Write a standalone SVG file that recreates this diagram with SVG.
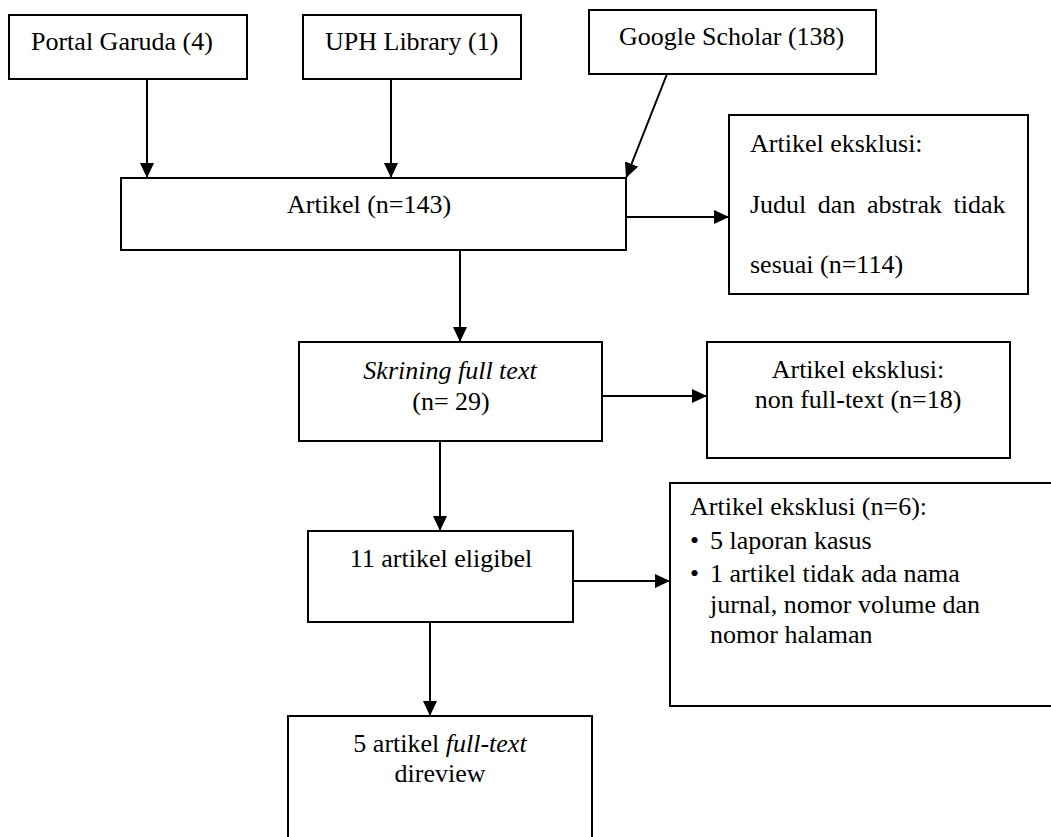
<svg xmlns="http://www.w3.org/2000/svg" width="1051" height="837" viewBox="0 0 1051 837">
<defs>
<marker id="ah" markerUnits="userSpaceOnUse" markerWidth="16" markerHeight="14" refX="15" refY="7" orient="auto">
<path d="M0,0 L15,7 L0,14 Z" fill="#000"/>
</marker>
<style>
.box{fill:#fff;stroke:#000;stroke-width:2}
.t{font-size:26px;fill:#000}
.c{text-anchor:middle}
.i{font-style:italic}
.ln{stroke:#000;stroke-width:2;fill:none;marker-end:url(#ah)}
</style>
</defs>
<rect width="1051" height="837" fill="#fff"/>
<g font-family="Liberation Serif, Tinos, Times New Roman, DejaVu Serif, serif">
<g id="portal">
<rect class="box" x="9" y="15" width="238" height="64"/>
<text class="t" x="31" y="50">Portal Garuda (4)</text>
</g>
<g id="uph">
<rect class="box" x="303" y="15" width="218" height="64"/>
<text class="t" x="325" y="50">UPH Library (1)</text>
</g>
<g id="google">
<rect class="box" x="589" y="10" width="287" height="64"/>
<text class="t" x="619" y="45">Google Scholar (138)</text>
</g>
<g id="artikel">
<rect class="box" x="121" y="178" width="505" height="72"/>
<text class="t" x="287" y="213">Artikel (n=143)</text>
</g>
<g id="excl1">
<rect class="box" x="729" y="115" width="299" height="179"/>
<text class="t" x="750" y="152">Artikel eksklusi:</text>
<text class="t" x="750" y="213" word-spacing="5">Judul dan abstrak tidak</text>
<text class="t" x="750" y="273">sesuai (n=114)</text>
</g>
<g id="skrining">
<rect class="box" x="299" y="342" width="303" height="99"/>
<text class="t c i" x="450" y="379">Skrining full text</text>
<text class="t c" x="451" y="410">(n= 29)</text>
</g>
<g id="excl2">
<rect class="box" x="707" y="342" width="303" height="116"/>
<text class="t c" x="858" y="378">Artikel eksklusi:</text>
<text class="t c" x="858" y="408">non full-text (n=18)</text>
</g>
<g id="eligibel">
<rect class="box" x="308" y="531" width="265" height="91"/>
<text class="t c" x="441" y="567">11 artikel eligibel</text>
</g>
<g id="excl3">
<rect class="box" x="670" y="483" width="400" height="223"/>
<text class="t" x="690" y="515">Artikel eksklusi (n=6):</text>
<text class="t" x="690" y="549">•</text>
<text class="t" x="710" y="549">5 laporan kasus</text>
<text class="t" x="690" y="582">•</text>
<text class="t" x="710" y="582">1 artikel tidak ada nama</text>
<text class="t" x="710" y="613">jurnal, nomor volume dan</text>
<text class="t" x="710" y="643">nomor halaman</text>
</g>
<g id="final">
<rect class="box" x="288" y="716" width="304" height="140"/>
<text class="t c" x="440" y="752">5 artikel <tspan class="i">full-text</tspan></text>
<text class="t c" x="440" y="782">direview</text>
</g>
</g>
<g id="connectors">
<line class="ln" x1="147" y1="79" x2="147" y2="178"/>
<line class="ln" x1="391" y1="79" x2="391" y2="178"/>
<line class="ln" x1="667" y1="74" x2="626" y2="178"/>
<line class="ln" x1="626" y1="217" x2="729" y2="217"/>
<line class="ln" x1="460" y1="250" x2="460" y2="342"/>
<line class="ln" x1="602" y1="396" x2="707" y2="396"/>
<line class="ln" x1="440" y1="441" x2="440" y2="531"/>
<line class="ln" x1="573" y1="581" x2="670" y2="581"/>
<line class="ln" x1="430" y1="622" x2="430" y2="716"/>
</g>
</svg>
